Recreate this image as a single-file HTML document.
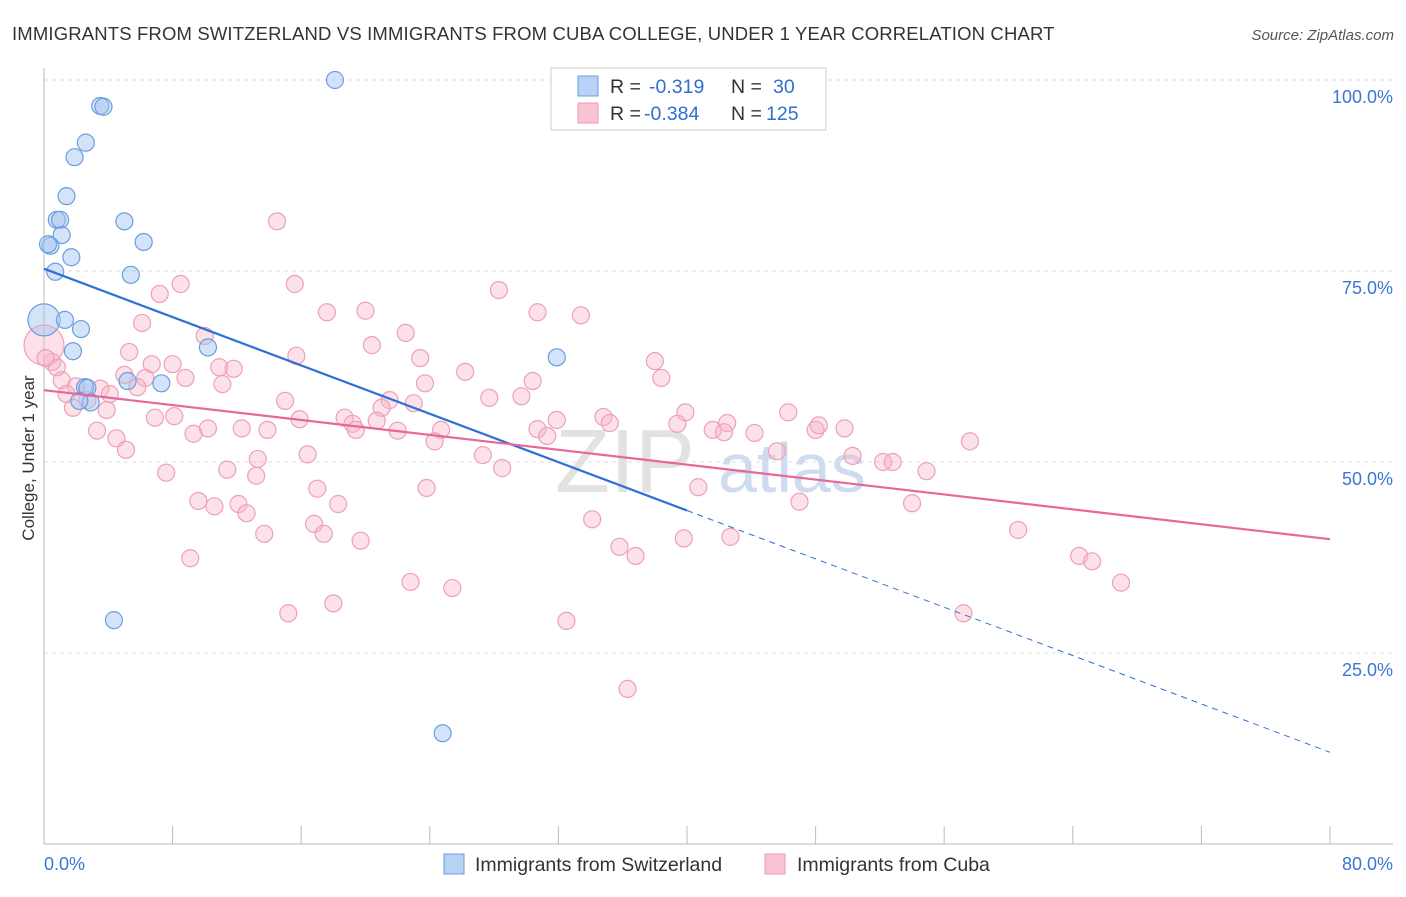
<!DOCTYPE html>
<html><head><meta charset="utf-8"><style>
body{margin:0;background:#fff;font-family:"Liberation Sans",sans-serif}
svg text{font-family:"Liberation Sans",sans-serif}
</style></head><body>
<svg id="c" width="1406" height="892">
<text x="12" y="40" font-size="18.5" letter-spacing="0.15" fill="#333">IMMIGRANTS FROM SWITZERLAND VS IMMIGRANTS FROM CUBA COLLEGE, UNDER 1 YEAR CORRELATION CHART</text>
<text x="1394" y="40" font-size="15" fill="#555" text-anchor="end" font-style="italic">Source: ZipAtlas.com</text>
<text x="0" y="0" transform="translate(34,458) rotate(-90)" font-size="17" fill="#333" text-anchor="middle">College, Under 1 year</text>
<text x="555" y="492" font-size="90" fill="#e2e2e2" font-family="Liberation Serif">ZIP</text>
<text x="718" y="492" font-size="70" fill="#cfdcef">atlas</text>
<g id="grid"></g><g id="pts"></g><g id="lines"></g>
<g>
<rect x="551" y="68" width="275" height="62" fill="#fff" stroke="#ccc"/>
<rect x="578" y="76" width="20" height="20" fill="#b7d2f4" stroke="#6a9ee0"/>
<rect x="578" y="103" width="20" height="20" fill="#f8c4d4" stroke="#ec9ab4"/>
<text x="610" y="93" font-size="19.5" fill="#333">R =</text>
<text x="649" y="93" font-size="19.5" fill="#2f6fce">-0.319</text>
<text x="731" y="93" font-size="19.5" fill="#333">N =</text>
<text x="773" y="93" font-size="19.5" fill="#2f6fce">30</text>
<text x="610" y="120" font-size="19.5" fill="#333">R =</text>
<text x="644" y="120" font-size="19.5" fill="#2f6fce">-0.384</text>
<text x="731" y="120" font-size="19.5" fill="#333">N =</text>
<text x="766" y="120" font-size="19.5" fill="#2f6fce">125</text>
</g>
<g>
<rect x="444" y="854" width="20" height="20" fill="#b7d2f4" stroke="#6a9ee0"/>
<text x="475" y="871" font-size="19.5" fill="#333">Immigrants from Switzerland</text>
<rect x="765" y="854" width="20" height="20" fill="#f8c4d4" stroke="#ec9ab4"/>
<text x="797" y="871" font-size="19.5" fill="#333">Immigrants from Cuba</text>
</g>
</svg>
<script>
const yTicks=[100,75,50,25];
const yTickLabels=["100.0%","75.0%","50.0%","25.0%"];
const xTicks=[0,10,20,30,40,50,60,70,80,90,100].map(v=>v*0.8);
const blueX=[18.1,3.5,3.7,2.6,1.9,1.4,0.8,1.0,1.1,0.4,0.25,5.0,6.2,1.7,5.4,0.7,0,1.3,2.3,1.8,10.2,5.2,7.3,2.55,2.7,2.9,31.9,4.35,24.8,2.2];
const blueY=[100,96.6,96.5,91.8,89.9,84.8,81.7,81.7,79.7,78.3,78.5,81.5,78.8,76.8,74.5,74.9,68.6,68.6,67.4,64.5,65.0,60.6,60.3,59.8,59.7,57.8,63.7,29.3,14.5,58.0];
const pinkX=[14.5,15.6,8.5,7.2,28.3,17.6,20.0,30.7,33.4,6.1,10.0,22.5,20.4,15.7,5.3,38.0,0.5,0.8,23.4,6.7,8.0,10.9,11.8,5.0,38.4,1.1,26.2,8.8,6.3,11.1,23.7,30.4,5.8,2.0,3.5,4.1,2.7,21.5,15.0,27.7,29.7,3.9,1.8,21.0,23.0,6.9,8.1,15.9,18.7,19.2,20.7,31.9,34.8,39.9,46.3,35.2,39.4,42.5,10.2,12.3,13.9,19.4,22.0,24.7,30.7,31.3,41.6,42.3,44.2,48.0,48.2,49.8,3.3,4.5,9.3,24.3,5.1,13.3,16.4,27.3,45.6,50.3,52.2,52.8,57.6,7.6,11.4,13.2,28.5,17.0,23.8,40.7,9.6,10.6,12.1,12.6,18.3,16.8,17.4,34.1,47.0,54.0,54.9,13.7,19.7,39.8,42.7,35.8,36.8,9.1,60.6,64.4,65.2,67.0,22.8,25.4,15.2,18.0,32.5,57.2,36.3,0,0.1,1.4];
const pinkY=[81.5,73.3,73.3,72.0,72.5,69.6,69.8,69.6,69.2,68.2,66.5,66.9,65.3,63.9,64.4,63.2,63.1,62.4,63.6,62.8,62.8,62.4,62.2,61.4,61.0,60.7,61.8,61.0,61.0,60.2,60.3,60.6,59.8,59.9,59.6,58.9,58.1,58.1,58.0,58.4,58.6,56.8,57.1,57.1,57.7,55.8,56.0,55.6,55.8,55.0,55.4,55.5,55.9,56.5,56.5,55.1,55.0,55.1,54.4,54.4,54.2,54.2,54.1,54.2,54.3,53.4,54.2,53.9,53.8,54.2,54.8,54.4,54.1,53.1,53.7,52.7,51.6,50.4,51.0,50.9,51.4,50.8,50.0,50.0,52.7,48.6,49.0,48.2,49.2,46.5,46.6,46.7,44.9,44.2,44.5,43.3,44.5,41.9,40.6,42.5,44.8,44.6,48.8,40.6,39.7,40.0,40.2,38.9,37.7,37.4,41.1,37.7,37.0,34.2,34.3,33.5,30.2,31.5,29.2,30.2,20.3,65.3,63.6,58.9];
const blueTrend=[75.3,12.0];
const pinkTrend=[59.4,39.9];
const NS="http://www.w3.org/2000/svg";
const X=v=>44+v/80*1286, Y=v=>844-v/100*764;
function mk(t,a,p){const e=document.createElementNS(NS,t);for(const k in a)e.setAttribute(k,a[k]);p.appendChild(e);return e;}
const grid=document.getElementById('grid');
yTicks.forEach((v,i)=>{
 const l=mk('line',{x1:44,x2:1393,y1:Y(v),y2:Y(v),stroke:'#ddd','stroke-dasharray':'4,4'},grid);
 
 
 const t=mk('text',{x:1393,y:Y(v)+23,'font-size':18,fill:'#3b76d4','text-anchor':'end'},grid);
 t.textContent=yTickLabels[i];
 
 
});
const ax=mk('line',{x1:44,x2:44,y1:68,y2:844,stroke:'#bbb'},grid);


const bx=mk('line',{x1:44,x2:1393,y1:844,y2:844,stroke:'#bbb'},grid);


xTicks.forEach(v=>{const t=mk('line',{x1:X(v),x2:X(v),y1:826,y2:844,stroke:'#bbb'},grid);
 
 });
[["0.0%",44,'start'],["80.0%",1393,'end']].forEach(a=>{const t=mk('text',{x:a[1],y:870,'font-size':18,fill:'#3b76d4','text-anchor':a[2]},grid);t.textContent=a[0];
 
 });
const pts=document.getElementById('pts');
pinkX.forEach((x,i)=>{const r=(x===0)?20:8.5;
 const c=mk('circle',{cx:X(x),cy:Y(pinkY[i]),r:r,fill:'rgba(248,180,200,0.4)',stroke:'#eea0b8','stroke-width':1.2},pts);
 
 });
blueX.forEach((x,i)=>{const r=(x===0)?16:8.5;
 const c=mk('circle',{cx:X(x),cy:Y(blueY[i]),r:r,fill:'rgba(160,196,240,0.45)',stroke:'#6a9ee0','stroke-width':1.2},pts);
 
 });
const lines=document.getElementById('lines');
const by=x=>blueTrend[0]+(blueTrend[1]-blueTrend[0])*x/80;
let l1=mk('line',{x1:X(0),y1:Y(by(0)),x2:X(40),y2:Y(by(40)),stroke:'#2f6fd6','stroke-width':2.2},lines);


let l2=mk('line',{x1:X(40),y1:Y(by(40)),x2:X(80),y2:Y(by(80)),stroke:'#2f6fd6','stroke-width':1,'stroke-dasharray':'6,5'},lines);


let l3=mk('line',{x1:X(0),y1:Y(pinkTrend[0]),x2:X(80),y2:Y(pinkTrend[1]),stroke:'#e8679a','stroke-width':2.2},lines);


</script>
</body></html>
